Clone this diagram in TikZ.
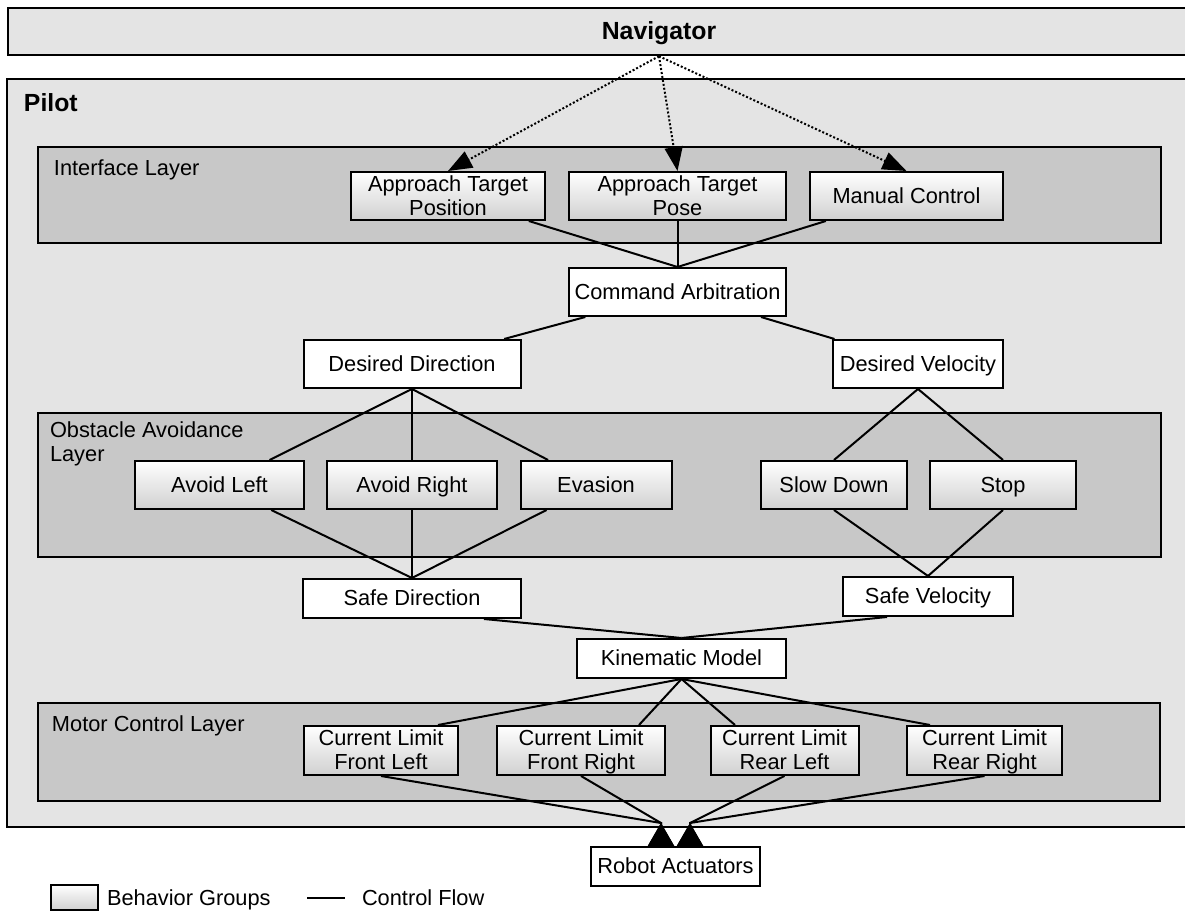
\documentclass[tikz,border=0pt]{standalone}
\usepackage{fontspec}
\setmainfont{Liberation Sans}
\usetikzlibrary{arrows.meta,positioning,fit,calc}
\definecolor{outergray}{RGB}{228,228,228}
\definecolor{layergray}{RGB}{200,200,200}
\definecolor{behavgray}{RGB}{208,208,208}

\begin{document}
\begin{tikzpicture}[x=0.5pt,y=-0.5pt,line width=1pt,
    every node/.style={font=\fontsize{10.9}{12}\selectfont,inner sep=1pt,text depth=0.5pt},
    groupbox/.style={draw,fill=outergray,inner sep=0pt,line width=1.2pt},
    layerbox/.style={draw,fill=layergray,inner sep=0pt},
    layertext/.style={anchor=west,inner sep=0pt,align=left},
    behavior/.style={draw,top color=white,bottom color=behavgray,minimum height=24pt,align=center},
    datanode/.style={draw,fill=white,minimum height=19.5pt,align=center},
    navlink/.style={dash pattern=on 1pt off 1pt,-{Triangle[length=12pt,width=9pt]}},
    actuate/.style={-{Triangle[reversed,length=11.5pt,width=13pt]}}
  ]
  \clip (0,0) rectangle (1185,914);

  % the navigator and the pilot
  \node[groupbox,minimum width=651pt,minimum height=23.5pt,font=\bfseries\fontsize{12.4}{14}\selectfont] (nav) at (659,31.5) {Navigator};
  \node[groupbox,fit={(7,79) (1320,827)}] (pilot) {};
  \node[layertext,font=\bfseries\fontsize{12.4}{14}\selectfont] (pilotlbl) at (23,103) {Pilot};

  % the layers
  \node[layerbox,fit={(38,147) (1161,243)}] (ifacelayer) {};
  \node[layertext] (ifacelbl) at (53,168) {Interface Layer};
  \node[layerbox,fit={(38,413) (1161,557)}] (obstlayer) {};
  \node[layertext,anchor=north west] (obstlbl) at (49,421) {Obstacle Avoidance\\Layer};
  \node[layerbox,fit={(38,703) (1160,801)}] (motorlayer) {};
  \node[layertext] (motorlbl) at (51,724) {Motor Control Layer};

  % the interface behaviors
  \node[behavior,minimum width=97pt] (atpos) at (448,196) {Approach Target\\Position};
  \node[behavior,minimum width=108.5pt] (atpose) at (677.5,196) {Approach Target\\Pose};
  \node[behavior,minimum width=96.5pt] (manual) at (906.5,196) {Manual Control};

  % arbitration and desired values
  \node[datanode,minimum width=108.5pt,minimum height=24pt] (cmdarb) at (677.5,292) {Command Arbitration};
  \node[datanode,minimum width=108.5pt,minimum height=24pt] (desdir) at (412,364) {Desired Direction};
  \node[datanode,minimum width=84.75pt,minimum height=24pt] (desvel) at (918,364) {Desired Velocity};

  % the obstacle avoidance behaviors
  \node[behavior,minimum width=84.5pt] (avleft) at (219.5,485) {Avoid Left};
  \node[behavior,minimum width=85pt] (avright) at (412,485) {Avoid Right};
  \node[behavior,minimum width=75.5pt] (evasion) at (596,485) {Evasion};
  \node[behavior,minimum width=73pt] (slowdown) at (834,485) {Slow Down};
  \node[behavior,minimum width=73pt] (stop) at (1003,485) {Stop};

  % safe values and the model
  \node[datanode,minimum width=109pt] (safedir) at (412,598.5) {Safe Direction};
  \node[datanode,minimum width=85pt] (safevel) at (928,596.5) {Safe Velocity};
  \node[datanode,minimum width=104.5pt] (kinmodel) at (681.5,658.5) {Kinematic Model};

  % the motor control behaviors
  \foreach \name/\x/\w/\txt in {limfl/381/77/Front Left,limfr/581/84/Front Right,
      limrl/784.5/74/Rear Left,limrr/984.5/77.5/Rear Right}
    \node[behavior,minimum width=\w pt,minimum height=24.5pt] (\name) at (\x,750.5) {Current Limit\\\txt};

  \node[datanode,minimum width=84.5pt] (robot) at (675.5,866.5) {Robot Actuators};

  % the legend
  \node[behavior,minimum width=23.5pt,minimum height=12.5pt,inner sep=0pt,text depth=0pt] (legbeh) at (74.5,897.5) {};
  \node[anchor=west] (legbehtxt) at (104,898) {Behavior Groups};
  \node[anchor=west] (legflow) at (359,898) {Control Flow};
  \coordinate (legline) at (307,898);
  \draw (legline) -- ([xshift=-7pt]legflow.west);

  % the navigator requests
  \foreach \n in {atpos,atpose,manual}
    \draw[navlink] (nav.south) -- (\n.north);

  % the control flow
  \foreach \n in {atpos,atpose,manual}
    \draw (cmdarb.north) -- (\n);
  \draw (cmdarb) -- (desdir);
  \draw (cmdarb) -- (desvel);
  \foreach \n in {avleft,avright,evasion} {
    \draw (desdir.south) -- (\n);
    \draw (safedir.north) -- (\n);
  }
  \foreach \n in {slowdown,stop} {
    \draw (desvel.south) -- (\n.north);
    \draw (safevel.north) -- (\n.south);
  }
  \draw (kinmodel.north) -- ([xshift=36pt]safedir.south);
  \draw (kinmodel.north) -- ([xshift=-20.5pt]safevel.south);
  \draw (kinmodel.south) -- ([xshift=28.5pt]limfl.north);
  \draw (kinmodel.south) -- ([xshift=29pt]limfr.north);
  \draw (kinmodel.south) -- ([xshift=-24.75pt]limrl.north);
  \draw (kinmodel.south) -- ([xshift=-27.25pt]limrr.north);

  % into the actuators
  \coordinate (tipl) at ([xshift=-7.25pt]robot.north);
  \coordinate (tipr) at ([xshift=7.25pt]robot.north);
  \foreach \n/\t in {limfl/tipl,limfr/tipl,limrl/tipr,limrr/tipr}
    \draw[actuate] (\n.south) -- ([yshift=11.5pt]\t) -- (\t);
\end{tikzpicture}
\end{document}
